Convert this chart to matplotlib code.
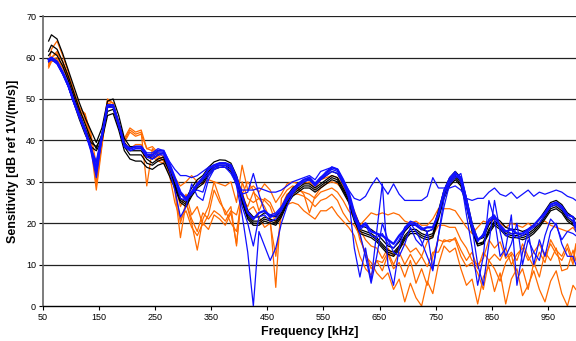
import numpy as np
import matplotlib
matplotlib.use("Agg")
import matplotlib.pyplot as plt

plt.rcParams['font.family'] = ['Liberation Sans', 'DejaVu Sans']

# frequency grid [kHz]
freq = [60] + list(range(65, 1000, 10)) + [1000]

# black curves
black1 = [64, 65.5, 64.5, 61, 57, 53, 49, 45.5, 42.5, 39.5,
          43, 49.5, 50, 46, 40.5, 38.5, 38.5, 38.5, 36.5, 35.5,
          36.5, 37, 34, 30.5, 27, 26, 28.5, 30.5, 31.5, 33.5,
          34.8, 35.3, 35.2, 34.5, 31.5, 27, 23, 21.5, 21.5, 22.5,
          22, 21.5, 23.5, 26.5, 28.5, 29.5, 30.5, 30.5, 29.5, 30.5,
          31.5, 32.5, 32, 29.5, 27, 22.5, 19.5, 19, 18.5, 17.5,
          16, 14.5, 14, 15.5, 18, 19.5, 19.5, 18.5, 18, 18.5,
          23, 28, 31, 32.5, 31, 26, 20, 16, 16.5, 19.5,
          21.5, 20.5, 19, 18.5, 18.5, 18, 18.5, 19.5, 21, 23,
          25, 25.5, 24.5, 22.5, 21.5, 21]
black2 = [61.5, 63, 62, 59, 55.5, 51.5, 47.5, 44, 40.5, 38,
          41.5, 48, 48.5, 44.5, 39.5, 37.5, 37.5, 37.5, 35.5, 34.5,
          35.5, 36, 33, 29.5, 26, 25, 27.5, 29.5, 30.5, 32.5,
          34, 34.5, 34.5, 33.5, 30.5, 26, 22, 20.5, 20.5, 21.5,
          21, 20.5, 22.5, 25.5, 27.5, 28.5, 29.5, 29.5, 28.5, 29.5,
          30.5, 31.5, 31, 28.5, 26, 21.5, 18.5, 18, 17.5, 16.5,
          15, 13.5, 13, 14.5, 17, 18.5, 18.5, 17.5, 17, 17.5,
          22, 27, 30, 31.5, 30, 25, 19, 15, 15.5, 18.5,
          20.5, 19.5, 18, 17.5, 17.5, 17, 17.5, 18.5, 20, 22,
          24, 24.5, 23.5, 21.5, 20.5, 20]
black3 = [59, 60, 59, 56.5, 53, 49, 45, 41.5, 38.5, 37.5,
          40, 46, 46.5, 42.5, 37.5, 35.5, 35, 35, 33.5, 33,
          34, 34.5, 31.5, 28.5, 25, 24, 26.5, 28.5, 29.5, 31.5,
          33, 33.5, 33.5, 32.5, 29.5, 25, 21, 19.5, 19.5, 20.5,
          20, 19.5, 21.5, 24.5, 26.5, 27.5, 28.5, 28.5, 27.5, 28.5,
          29.5, 30.5, 30, 27.5, 25, 20.5, 17.5, 17, 16.5, 15.5,
          14, 12.5, 12, 13.5, 16, 17.5, 17.5, 16.5, 16, 16.5,
          21, 26, 29, 30.5, 29, 24, 18, 14.5, 15, 17.5,
          19.5, 18.5, 17, 16.5, 16.5, 16, 16.5, 17.5, 19, 21,
          23, 23.5, 22.5, 20.5, 19.5, 19]
black4 = [60.5, 61.5, 60.5, 58, 54.5, 50.5, 46.5, 43, 39.5, 38.5,
          41, 47, 47.5, 43.5, 38.5, 36.5, 36.5, 36.5, 34.5, 34,
          35, 35.5, 32.5, 29, 25.5, 24.5, 27, 29, 30, 32,
          33.5, 34, 34, 33, 30, 25.5, 21.5, 20, 20, 21,
          20.5, 20, 22, 25, 27, 28, 29, 29, 28, 29,
          30, 31, 30.5, 28, 25.5, 21, 18, 17.5, 17, 16,
          14.5, 13, 12.5, 14, 16.5, 18, 18, 17, 16.5, 17,
          21.5, 26.5, 29.5, 31, 29.5, 24.5, 18.5, 15, 15.2, 18,
          20, 19, 17.5, 17, 17, 16.5, 17, 18, 19.5, 21.5,
          23.5, 24, 23, 21, 20, 19.5]

# blue curves
blue1 = [59.5, 60, 59, 56.5, 53.5, 49.5, 46, 42.5, 38.5, 33,
         41, 48.5, 48.5, 44, 39, 38, 38.5, 38.5, 36.5, 36.5,
         37.5, 37.5, 34.5, 31, 27.5, 26, 27.5, 29.5, 31, 33,
         34, 34.5, 34.5, 34, 31, 26.5, 22.5, 21, 22.5, 23,
         21.5, 22, 23.5, 26, 28, 29.5, 30.5, 31, 29.5, 31,
         32, 33.5, 33, 30.5, 27.5, 22.5, 19, 20, 18, 17.5,
         17, 16, 15, 17, 18.5, 20, 19.5, 18.5, 19, 19,
         22, 27.5, 30.5, 32, 31, 25.5, 19.5, 16, 17, 20.5,
         21.5, 19.5, 18, 18.5, 17.5, 17.5, 18.5, 19.5, 21, 22.5,
         24.5, 25, 24, 22, 21.5, 19]
blue2 = [59.5, 60, 58.5, 56, 53, 49, 45.5, 42, 38, 34.5,
         41.5, 48.5, 48.5, 44, 39, 38, 38.5, 38.5, 37, 37,
         38, 37.5, 35, 33, 31.5, 31.5, 31, 31.5, 32.5, 33.5,
         34, 34, 33.5, 32, 29.5, 28, 28, 28, 28.5, 28,
         27.5, 27.5, 28, 29, 30, 30.5, 31, 31.5, 30.5, 32.5,
         33, 33.5, 33, 30.5, 28, 26, 25.5, 26.5, 29, 31,
         29, 27, 29.5, 27, 25.5, 25.5, 25.5, 25.5, 26.5, 31,
         28.5, 28.5, 28.5, 29, 28, 26, 25.5, 26, 26, 27.5,
         28.5, 27, 26.5, 27.5, 26, 27, 28, 26.5, 27.5, 27,
         27.5, 28, 27.5, 26.5, 26, 25.5]
blue3 = [59, 59.5, 58.5, 56, 53, 49, 45.5, 42, 37.5, 31,
         40.5, 48, 48, 43.5, 38.5, 37.5, 38, 38, 36, 35.5,
         36.5, 36.5, 33, 28, 21.5, 24, 29.5, 26.5, 25.5, 30.5,
         33, 33.5, 33.5, 33, 29, 22, 13, 0, 18, 14.5,
         11, 14, 20, 24, 27, 29, 30, 30.5, 29, 30.5,
         32, 33, 32.5, 30, 26, 14, 7, 14, 6, 18,
         29.5, 10, 5, 14, 19, 20, 18, 15.5, 12, 8.5,
         17, 26, 30, 31.5, 30.5, 22, 14, 5, 12, 25.5,
         21, 12, 14, 22, 5, 13, 18, 10, 16, 12,
         18, 20, 15, 12, 12, 10]
blue4 = [59.5, 60, 59, 56.5, 53.5, 49.5, 46, 42.5, 38, 32,
         41, 48.5, 48.5, 44, 39, 38, 38.5, 38.5, 36.5, 36,
         37, 37, 34, 30.5, 26, 25.5, 27.5, 28, 27.5, 31.5,
         33, 34, 34, 33.5, 30.5, 27, 27.5, 32, 27, 23,
         22, 22.5, 24, 26.5, 28, 29.5, 30.5, 31, 29.5, 31,
         32.5, 33.5, 33, 30, 27, 22, 17.5, 12, 5.5, 12,
         20, 16, 13, 12, 15, 19, 16, 14.5, 18, 9,
         17, 24, 29.5, 31, 32, 26, 19, 10, 5, 15,
         25.5, 18, 12, 15, 20, 10, 16, 13, 11, 17,
         21, 19.5, 16, 18, 17.5, 17]
blue5 = [59, 59.5, 58.5, 56, 53, 49, 45.5, 42, 38, 35,
         41.5, 48, 48, 43.5, 38.5, 37.5, 38, 38, 36, 35.5,
         36.5, 37, 34, 30.5, 27, 25.5, 27, 29, 30.5, 32,
         33.5, 34, 34, 33.5, 30, 24, 20, 14.5, 21.5, 22,
         20.5, 21, 23, 25.5, 27.5, 29, 30, 30.5, 29, 30.5,
         31.5, 32.5, 32, 29.5, 26.5, 21, 18.5, 19.5, 17, 16.5,
         17.5, 15, 14, 16, 19, 20.5, 20, 19, 18, 18.5,
         22.5, 28, 31, 32.5, 30, 24, 18.5, 15.5, 17.5, 21,
         22, 19, 17, 17.5, 16.5, 17, 18, 19, 20, 22,
         24, 24.5, 23.5, 21.5, 20.5, 18]

# orange curves
orange1 = [58.5, 62, 64, 60.5, 56.5, 52, 48, 46, 42, 34,
           41, 50, 49, 44, 40.5, 43, 42, 42.5, 38, 38.5,
           37, 36, 34, 31, 29, 30, 31.5, 30, 29.5, 30.5,
           30, 29.5, 29, 30, 25, 34, 28, 29, 27.5, 29.5,
           28, 25, 27, 29.5, 30, 29.5, 29.5, 30, 28.5, 30.5,
           31, 31.5, 31, 29, 26, 23, 19.5, 21, 22.5, 22,
           22.5, 22, 22.5, 22, 20.5, 20, 20.5, 19.5, 19.5, 21,
           23.5, 23.5, 23.5, 23, 21, 19, 17.5, 19, 20.5, 20,
           21, 20, 19, 20, 19.5, 19, 20, 19, 20, 20.5,
           19.5, 19, 18.5, 18, 19, 18]
orange2 = [58, 60, 61, 59, 55.5, 51, 47.5, 46.5, 41, 30,
           40, 49.5, 49, 44, 40, 42.5, 41.5, 42, 29, 38,
           36.5, 35, 33.5, 28, 16.5, 25, 20, 13.5, 21, 24,
           30, 26, 22, 24, 14.5, 30, 26, 25, 26, 24,
           21, 4.5, 26, 28, 29, 28.5, 27, 22.5, 26.5, 28.5,
           29.5, 30, 29.5, 28, 25.5, 22, 18.5, 16, 14.5, 14,
           11.5, 14, 12, 14.5, 15, 13, 14, 12, 15.5, 17,
           19.5, 19.5, 19, 19, 16, 14, 11, 10, 11.5, 16,
           14, 15.5, 11.5, 13, 11, 15, 12, 9.5, 13, 10.5,
           16, 13.5, 12, 15, 11, 15]
orange3 = [58, 59.5, 60, 58, 55, 51, 47, 44.5, 40.5, 29,
           39.5, 49, 48.5, 43.5, 39.5, 42, 41, 41.5, 38, 37.5,
           36, 35, 33, 30, 24, 27, 22, 24, 19.5, 22,
           28, 25, 23, 20, 18, 26, 24, 27.5, 26, 25.5,
           24, 20, 24, 27, 28, 28, 27.5, 27, 26, 27.5,
           28, 28.5, 27.5, 25.5, 23, 21.5, 16, 13, 9, 11,
           8.5, 12.5, 9, 10.5, 7, 11, 5.5, 9, 5, 12,
           16, 15.5, 16, 16, 12, 9.5, 10.5, 8, 4, 11,
           9, 6, 10.5, 12.5, 6.5, 9, 4, 10.5, 7, 13,
           11, 14, 8.5, 9, 13.5, 11]
orange4 = [57.5, 59, 59.5, 57.5, 54.5, 50.5, 47, 46, 40, 31,
           39, 48.5, 48, 43, 39, 38, 39, 39, 36.5, 36.5,
           35.5, 36, 33, 29, 20, 25, 21, 18, 22.5, 21,
           23, 22, 20.5, 23, 22, 27, 30, 28, 23, 26,
           25, 22, 23, 25.5, 27, 27, 26.5, 25.5, 24, 25.5,
           26, 27, 25.5, 22.5, 20.5, 19.5, 17, 12, 10.5, 8,
           6.5, 8, 4, 6.5, 1, 5.5, 2, 0, 6, 3,
           10, 14.5, 13, 14, 9, 5, 6.5, 0.5, 7, 9.5,
           3.5, 8, 0.5, 6.5, 9, 2.5, 5, 8.5, 4, 1,
           6, 8.5, 3, 0, 5, 4]
orange5 = [58, 60, 61.5, 59, 55.5, 51.5, 47, 45, 39, 28,
           38.5, 49, 48.5, 43, 39.5, 38, 38.5, 38.5, 36, 36,
           35, 34.5, 32, 25, 21, 23, 19, 17, 20, 18.5,
           22, 21, 19.5, 22.5, 15, 27.5, 23, 24, 21.5, 19,
           20, 12, 22, 24.5, 25, 24.5, 23, 22, 21, 23,
           23, 24, 22, 20.5, 19, 17, 12, 9, 7.5, 11,
           10.5, 13, 10, 13, 10, 12.5, 10, 12, 9.5, 13,
           13, 16, 15.5, 16.5, 13.5, 11, 13, 9, 13, 11,
           12.5, 11, 14, 10, 12.5, 14, 11, 13, 15, 12,
           15, 12.5, 11, 14, 10, 14.5]

x_ticks = [50, 150, 250, 350, 450, 550, 650, 750, 850, 950]
y_ticks = [0, 10, 20, 30, 40, 50, 60, 70]

fig = plt.figure(figsize=(5.76, 3.41), dpi=100)
ax = fig.add_axes([0.0747, 0.1026, 0.925, 0.850])

for y in y_ticks[1:]:
    ax.axhline(y, color='#222222', lw=0.9, zorder=1)

for s in [orange1, orange2, orange3, orange4, orange5]:
    ax.plot(freq, s, color='#ff6a00', lw=0.9, zorder=2)
for s in [black1, black2, black3, black4]:
    ax.plot(freq, s, color='black', lw=0.9, zorder=3)
for s in [blue2, blue3, blue4, blue5]:
    ax.plot(freq, s, color='#1010ff', lw=0.9, zorder=4)
ax.plot(freq, blue1, color='#1010ff', lw=1.6, zorder=4)

ax.set_xlim(50, 1000)
ax.set_ylim(0, 70)
ax.set_xticks(x_ticks)
ax.set_yticks(y_ticks)
ax.tick_params(labelsize=6.5, length=3, width=0.8, direction='out', pad=2)
ax.spines['top'].set_visible(False)
ax.spines['right'].set_visible(False)
ax.spines['left'].set_color('#666666')
ax.spines['left'].set_linewidth(1.2)
ax.spines['bottom'].set_linewidth(1.0)

ax.set_xlabel('Frequency [kHz]', fontsize=9, fontweight='bold', labelpad=3)
ax.set_ylabel('Sensitivity [dB ref 1V/(m/s)]', fontsize=9, fontweight='bold', labelpad=5)

fig.savefig('out.png', dpi=100)
